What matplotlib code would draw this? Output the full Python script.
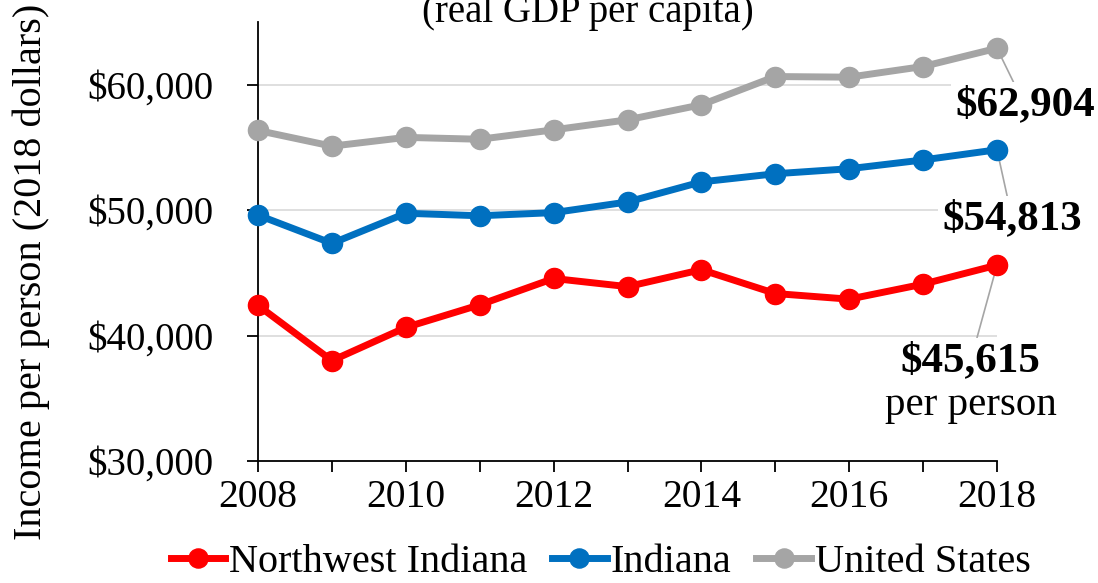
import matplotlib.pyplot as plt
from matplotlib.ticker import FuncFormatter

plt.rcParams['font.family'] = ['Liberation Serif', 'DejaVu Serif']

years = [2008, 2009, 2010, 2011, 2012, 2013, 2014, 2015, 2016, 2017, 2018]
nw_indiana = [42400, 38000, 40650, 42450, 44550, 43900, 45250, 43350, 42900, 44100, 45615]
indiana = [49600, 47350, 49750, 49550, 49800, 50650, 52250, 52900, 53300, 54000, 54813]
us = [56350, 55100, 55800, 55650, 56400, 57200, 58400, 60650, 60600, 61450, 62904]

series_names = ["Northwest Indiana", "Indiana", "United States"]
colors = ["#FF0000", "#0070C0", "#A5A5A5"]
end_labels = ["$45,615", "$54,813", "$62,904"]

fig = plt.figure(figsize=(10.98, 5.83), dpi=100)
ax = fig.add_axes([0.235, 0.2093, 0.673, 0.753])

ax.set_xlim(2008, 2018)
ax.set_ylim(30000, 65000)
ax.set_yticks([30000, 40000, 50000, 60000])
ax.set_xticks(years)
ax.set_xticklabels([str(y) if y % 2 == 0 else "" for y in years])
ax.yaxis.set_major_formatter(FuncFormatter(lambda v, p: "${:,.0f}".format(v)))

for g in [40000, 50000, 60000]:
    ax.axhline(g, color="#D9D9D9", lw=1.2, zorder=0)

for s in ["top", "right"]:
    ax.spines[s].set_visible(False)
for s in ["left", "bottom"]:
    ax.spines[s].set_linewidth(1.3)

ax.tick_params(axis="y", labelsize=28, length=8, width=1.3, pad=24)
ax.tick_params(axis="x", labelsize=28.5, length=8, width=1.3, pad=5)
ax.set_ylabel("Income per person (2018 dollars)", fontsize=29)
ax.yaxis.set_label_coords(-0.282, 0.43)

for vals, name, c in zip([nw_indiana, indiana, us], series_names, colors):
    ax.plot(years, vals, color=c, lw=5, marker="o", ms=14.5, label=name,
            clip_on=False, zorder=3)

# end-of-line value labels
offsets = [(-19, -69), (11, -50), (20, -41)]
for vals, lab, off in zip([nw_indiana, indiana, us], end_labels, offsets):
    ax.annotate(lab, xy=(years[-1], vals[-1]), xytext=off, textcoords="offset points",
                ha="center", va="center", fontsize=31, fontweight="bold",
                bbox=dict(boxstyle="square,pad=0.1", fc="white", ec="none"),
                arrowprops=dict(arrowstyle="-", color="#A5A5A5", lw=1.2,
                                shrinkA=0, shrinkB=0),
                zorder=2, annotation_clip=False)
ax.annotate("per person", xy=(years[-1], nw_indiana[-1]), xytext=(-19, -101),
            textcoords="offset points", ha="center", va="center", fontsize=29.5,
            annotation_clip=False)

fig.text(0.535, 0.962, "(real GDP per capita)", ha="center", va="baseline", fontsize=28)

fig.legend(loc="center", bbox_to_anchor=(0.547, 0.036), ncol=3, frameon=False,
           fontsize=29, handlelength=1.35, handletextpad=0.1, columnspacing=0.62,
           markerscale=0.95)

fig.savefig("out.png", dpi=100)
